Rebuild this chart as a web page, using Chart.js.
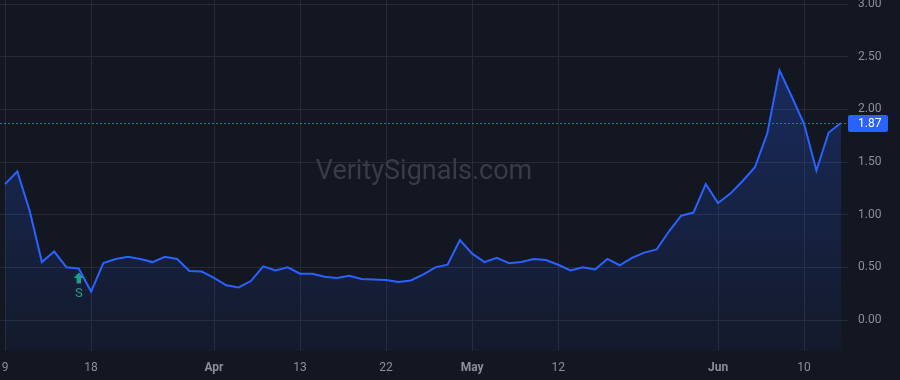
<!DOCTYPE html>
<html><head><meta charset="utf-8">
<script src="https://cdn.jsdelivr.net/npm/chart.js@4.4.1/dist/chart.umd.min.js"></script>
<style>html,body{margin:0;padding:0;background:#131722;overflow:hidden}#wrap{width:900px;height:380px;position:relative}</style>
</head><body><div id="wrap"><canvas id="c" width="900" height="380"></canvas></div>
<script>
// Trading days (2026), Mar 9 .. Jun 15
const dates = ['2026-03-09','2026-03-10','2026-03-11','2026-03-12','2026-03-13',
 '2026-03-16','2026-03-17','2026-03-18','2026-03-19','2026-03-20',
 '2026-03-23','2026-03-24','2026-03-25','2026-03-26','2026-03-27',
 '2026-03-30','2026-03-31','2026-04-01','2026-04-02',
 '2026-04-06','2026-04-07','2026-04-08','2026-04-09','2026-04-10',
 '2026-04-13','2026-04-14','2026-04-15','2026-04-16','2026-04-17',
 '2026-04-20','2026-04-21','2026-04-22','2026-04-23','2026-04-24',
 '2026-04-27','2026-04-28','2026-04-29','2026-04-30','2026-05-01',
 '2026-05-04','2026-05-05','2026-05-06','2026-05-07','2026-05-08',
 '2026-05-11','2026-05-12','2026-05-13','2026-05-14','2026-05-15',
 '2026-05-18','2026-05-19','2026-05-20','2026-05-21','2026-05-22',
 '2026-05-26','2026-05-27','2026-05-28','2026-05-29',
 '2026-06-01','2026-06-02','2026-06-03','2026-06-04','2026-06-05',
 '2026-06-08','2026-06-09','2026-06-10','2026-06-11','2026-06-12','2026-06-15'];
const values = [1.29,1.41,1.04,0.55,0.65,0.50,0.49,0.27,0.54,0.58,
 0.60,0.58,0.55,0.60,0.58,0.465,0.46,0.40,0.33,0.31,
 0.37,0.51,0.47,0.50,0.44,0.44,0.41,0.40,0.42,0.39,
 0.385,0.38,0.36,0.375,0.43,0.50,0.525,0.76,0.63,0.55,
 0.59,0.54,0.55,0.58,0.57,0.525,0.47,0.50,0.48,0.58,
 0.52,0.59,0.64,0.67,0.84,0.99,1.02,1.29,1.11,1.20,
 1.32,1.45,1.77,2.37,2.12,1.86,1.42,1.78,1.87];
const tickIndices = [0,7,17,24,31,38,45,58,65];
const tickLabels = ['9','18','Apr','13','22','May','12','Jun','10'];
const monthLabels = ['Apr','May','Jun'];
const yTicks = [0,0.5,1,1.5,2,2.5,3];
const signalIndex = 6;
const signalLabel = 'S';
const watermark = 'VeritySignals.com';

const FONT = "Roboto, 'Liberation Sans', Arial, sans-serif";
const GRID = '#252a36';
const TXT = '#8b8f99';
const BLUE = '#2962ff';

const points = values.map((v,i)=>({x:i,y:v}));

const bgPlugin = {id:'bg', beforeDraw(ch){const c=ch.ctx;c.save();c.fillStyle='#131722';c.fillRect(0,0,ch.width,ch.height);c.restore();}};
const wmPlugin = {id:'wm', beforeDatasetsDraw(ch){const a=ch.chartArea,c=ch.ctx;c.save();c.font='27px '+FONT;c.fillStyle='#383c47';c.textAlign='center';c.textBaseline='middle';c.fillText(watermark,(a.left+a.right)/2,(a.top+a.bottom)/2-3);c.restore();}};
const lastPlugin = {id:'last', afterDatasetsDraw(ch){
  const a=ch.chartArea,c=ch.ctx,ys=ch.scales.y;
  const v=values[values.length-1];const y=Math.round(ys.getPixelForValue(v))+0.5;
  c.save();c.strokeStyle=BLUE;c.lineWidth=1;c.setLineDash([2,2]);
  c.beginPath();c.moveTo(a.left,y);c.lineTo(a.right,y);c.stroke();c.setLineDash([]);
  c.fillStyle=BLUE;c.beginPath();c.roundRect(a.right,y-8.5,40,17,2);c.fill();
  c.fillStyle='#ffffff';c.font='12px '+FONT;c.textAlign='left';c.textBaseline='middle';
  c.fillText(v.toFixed(2),a.right+10,y+0.5);
  // signal marker
  const meta=ch.getDatasetMeta(0);const p=meta.data[signalIndex];
  const px=p.x, py=p.y+4;
  c.fillStyle='#1e9e8c';
  c.beginPath();c.moveTo(px,py);c.lineTo(px+5,py+5.5);c.lineTo(px+2.2,py+5.5);c.lineTo(px+2.2,py+11);c.lineTo(px-2.2,py+11);c.lineTo(px-2.2,py+5.5);c.lineTo(px-5,py+5.5);c.closePath();c.fill();
  c.font='13px '+FONT;c.textAlign='center';c.textBaseline='middle';c.fillText(signalLabel,px,py+21);
  c.restore();
}};

new Chart(document.getElementById('c'),{
  type:'line',
  data:{datasets:[{data:points,borderColor:BLUE,borderWidth:2,pointRadius:0,tension:0,fill:'start',
    backgroundColor:(ctx)=>{const a=ctx.chart.chartArea;if(!a)return 'rgba(41,98,255,0.15)';
      const g=ctx.chart.ctx.createLinearGradient(0,a.top,0,a.bottom);
      g.addColorStop(0,'rgba(41,98,255,0.32)');g.addColorStop(1,'rgba(41,98,255,0.04)');return g;}}]},
  options:{responsive:false,animation:false,events:[],
    layout:{padding:0},
    plugins:{legend:{display:false},tooltip:{enabled:false}},
    scales:{
      x:{type:'linear',min:-0.407,max:68.57,position:'bottom',
        border:{display:false},
        grid:{color:GRID,lineWidth:1,drawTicks:false},
        afterBuildTicks:(s)=>{s.ticks=tickIndices.map(v=>({value:v}));},
        afterFit:(s)=>{s.height=29;s.paddingLeft=0;s.paddingRight=0;s.paddingTop=0;s.paddingBottom=0;},
        ticks:{autoSkip:false,maxRotation:0,padding:10,color:TXT,
          callback:(v)=>{const k=tickIndices.indexOf(v);return k>=0?tickLabels[k]:'';},
          font:(ctx)=>{const l=ctx.tick?tickLabels[tickIndices.indexOf(ctx.tick.value)]:'';return {family:FONT,size:12,weight:monthLabels.includes(l)?'bold':'normal'};}}
      },
      y:{type:'linear',position:'right',min:-0.294,max:3.038,
        border:{display:false},
        grid:{color:GRID,lineWidth:1,drawTicks:false},
        afterBuildTicks:(s)=>{s.ticks=yTicks.map(v=>({value:v}));},
        afterFit:(s)=>{s.width=52;s.paddingLeft=0;s.paddingRight=0;s.paddingTop=0;s.paddingBottom=0;},
        ticks:{padding:10,color:TXT,font:{family:FONT,size:12},callback:(v)=>Number(v).toFixed(2)}
      }
    }
  },
  plugins:[bgPlugin,wmPlugin,lastPlugin]
});
</script></body></html>
